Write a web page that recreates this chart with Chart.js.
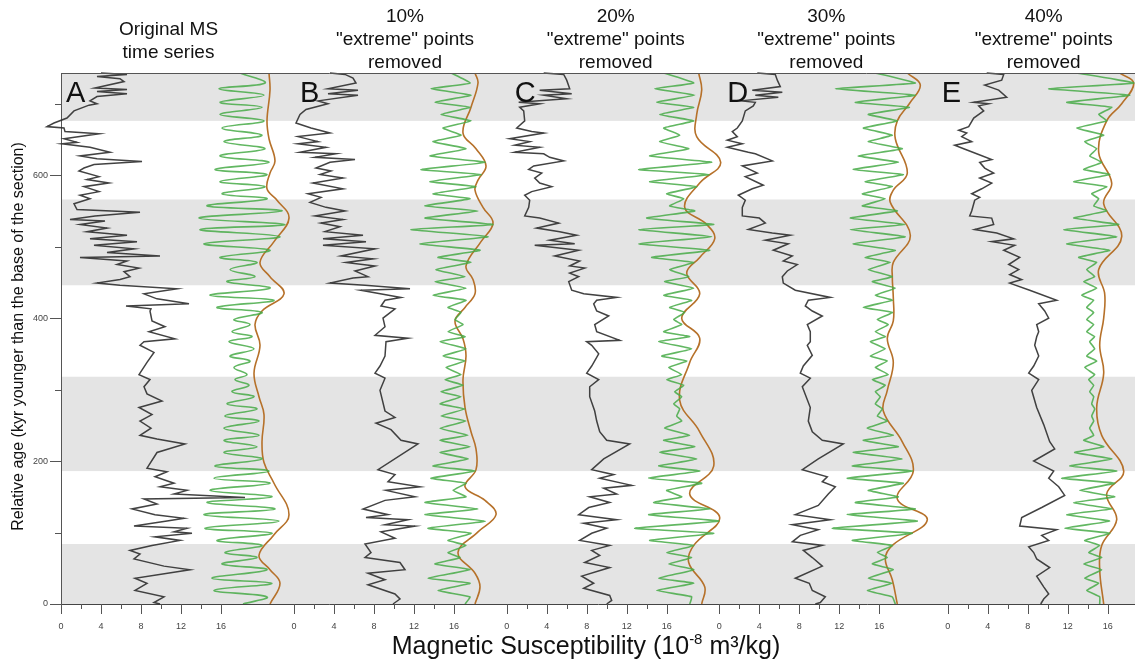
<!DOCTYPE html>
<html>
<head>
<meta charset="utf-8">
<script src="https://cdn.jsdelivr.net/npm/chart.js@4.4.1/dist/chart.umd.min.js"></script>
<style>
  body { margin: 0; background: #fff; }
  #wrap { width: 1135px; height: 659px; }
</style>
</head>
<body>
<div id="wrap"><canvas id="msChart"></canvas></div>
<script>
// ---- data: [age (kyr), MS value] pairs, one array per panel ----
const msA = [[743,4.0],[741,6.6],[738,3.6],[735,5.9],[731,6.3],[722,3.4],[720,6.6],[717,3.6],[714,6.6],[710,3.6],[704,2.9],[700,3.6],[698,2.8],[690,1.3],[680,0.6],[673,-0.7],[668,-1.4],[666,0.3],[661,0.4],[658,3.8],[651,0.3],[646,1.6],[644,0.1],[639,2.9],[632,4.9],[627,1.9],[623,3.6],[619,8.1],[615,3.3],[610,2.3],[606,1.8],[598,3.8],[594,2.6],[589,4.8],[584,2.3],[577,3.8],[572,1.9],[567,2.9],[560,1.3],[552,1.6],[548,7.9],[543,3.4],[538,0.9],[536,4.4],[531,1.9],[526,4.6],[521,2.6],[516,6.6],[511,2.9],[507,7.6],[502,3.3],[497,7.3],[492,4.6],[487,9.9],[485,1.9],[480,6.6],[475,5.6],[470,7.8],[465,6.3],[458,6.9],[454,5.9],[449,3.6],[446,5.9],[441,11.6],[434,8.3],[427,9.6],[420,12.8],[417,6.5],[413,9.0],[410,8.9],[396,9.1],[388,10.4],[381,8.8],[371,11.4],[367,8.3],[362,7.9],[352,9.3],[338,8.6],[321,7.8],[314,8.9],[304,8.3],[294,8.6],[284,10.1],[275,7.8],[265,9.1],[256,7.9],[246,9.0],[236,7.9],[231,9.6],[224,12.4],[212,9.6],[190,8.6],[185,10.6],[178,9.4],[169,11.3],[164,9.9],[159,12.6],[154,11.3],[149,18.4],[147,8.3],[140,9.6],[133,7.1],[125,9.4],[120,12.3],[116,10.6],[109,7.3],[106,12.6],[101,11.3],[99,13.1],[94,9.4],[89,11.9],[82,9.1],[75,6.9],[70,7.9],[63,7.3],[53,10.3],[48,12.9],[36,7.4],[29,8.6],[19,7.4],[10,10.3],[2,9.3],[0,9.9]];
const msB = [[743,3.6],[741,5.1],[736,5.9],[729,6.2],[721,3.4],[719,6.4],[714,3.4],[712,6.4],[704,2.4],[700,3.4],[692,1.2],[685,0.6],[673,0.2],[666,1.7],[659,3.6],[654,0.4],[647,2.4],[644,0.4],[639,3.2],[632,0.6],[630,4.2],[625,2.1],[622,6.1],[618,3.6],[610,2.2],[606,3.7],[601,2.6],[596,4.9],[589,1.9],[581,4.9],[574,1.4],[569,2.7],[562,1.6],[555,3.2],[550,5.1],[543,2.1],[538,4.9],[533,2.7],[528,4.6],[521,3.1],[516,6.9],[511,2.9],[507,7.2],[502,2.9],[497,8.1],[487,4.7],[483,7.9],[478,5.2],[473,8.1],[466,6.1],[458,7.4],[456,5.9],[449,3.6],[446,7.1],[441,11.6],[439,6.7],[429,10.7],[425,9.1],[417,8.7],[413,10.1],[400,8.9],[388,9.1],[376,8.1],[372,11.4],[367,9.2],[347,9.1],[333,8.6],[323,8.1],[316,9.1],[299,8.6],[270,9.1],[261,10.1],[253,8.2],[244,9.7],[229,10.7],[224,12.4],[188,8.4],[181,10.1],[171,9.4],[164,12.6],[159,9.2],[150,12.1],[145,9.1],[133,6.9],[125,9.4],[121,7.2],[118,11.4],[111,9.1],[109,12.1],[101,8.7],[92,10.1],[84,7.1],[72,7.7],[65,7.1],[58,10.6],[48,11.1],[43,7.4],[34,9.1],[27,7.4],[14,10.1],[7,10.6],[0,9.9]];
const msC = [[743,3.7],[741,5.7],[733,6.0],[721,6.3],[719,3.3],[714,6.5],[712,3.7],[707,6.0],[702,1.2],[700,3.3],[695,1.3],[690,1.7],[676,1.8],[666,1.0],[661,2.5],[659,3.7],[651,0.3],[647,2.3],[642,0.8],[639,3.3],[632,0.8],[630,3.7],[625,4.3],[620,5.7],[613,2.7],[608,2.2],[603,3.5],[596,2.8],[589,3.3],[584,4.5],[577,2.5],[572,1.8],[565,2.3],[555,2.2],[543,1.8],[540,3.3],[533,5.2],[526,3.0],[521,5.3],[516,7.0],[509,4.3],[504,6.8],[502,2.8],[495,7.2],[487,4.8],[480,7.3],[473,6.3],[470,7.8],[463,6.3],[458,7.2],[451,6.2],[439,6.5],[434,7.7],[429,11.0],[425,9.0],[420,8.7],[410,9.0],[403,10.2],[391,8.8],[381,9.0],[369,11.3],[367,8.0],[362,8.5],[350,9.2],[333,8.5],[323,8.0],[314,9.2],[304,8.3],[290,8.3],[270,8.8],[256,9.0],[241,9.3],[229,10.0],[224,12.3],[203,9.7],[188,8.5],[181,10.7],[176,9.3],[166,12.5],[162,9.7],[154,11.0],[150,8.3],[142,10.3],[135,8.2],[125,7.2],[118,11.0],[113,7.7],[106,10.0],[99,8.5],[89,7.3],[82,10.3],[75,8.5],[68,9.3],[58,7.8],[51,10.3],[39,7.5],[29,8.7],[22,7.7],[12,10.3],[5,10.5],[0,10.0]];
const msD = [[743,3.8],[741,5.6],[733,5.8],[724,6.1],[719,3.3],[716,6.3],[712,3.6],[709,5.9],[704,2.1],[702,3.6],[697,3.4],[690,2.6],[676,2.3],[666,1.8],[661,1.3],[654,1.8],[649,0.8],[644,2.3],[639,0.8],[632,2.9],[630,3.6],[620,5.3],[613,2.3],[603,3.8],[598,2.6],[586,4.4],[581,3.3],[572,1.9],[565,2.6],[555,2.3],[543,2.3],[540,4.0],[533,4.6],[524,2.9],[519,5.3],[516,7.1],[509,4.6],[504,6.9],[495,5.4],[487,7.3],[480,6.4],[475,7.8],[466,6.8],[458,6.3],[449,6.4],[439,7.6],[429,11.1],[425,8.9],[417,8.6],[410,9.3],[403,10.3],[391,8.8],[381,9.1],[367,9.1],[362,8.8],[348,9.3],[333,8.4],[323,8.1],[316,9.1],[304,8.3],[275,9.1],[256,8.9],[241,9.3],[229,10.3],[224,12.4],[203,9.9],[188,8.3],[178,10.8],[171,10.3],[164,11.6],[154,10.9],[138,9.9],[125,7.6],[118,11.1],[111,7.3],[104,9.9],[96,8.1],[87,7.3],[82,10.3],[75,8.4],[65,9.3],[53,10.3],[36,7.6],[29,9.0],[19,9.3],[10,10.6],[2,10.1],[0,9.6]];
const msE = [[743,3.9],[741,5.6],[733,5.4],[726,3.7],[719,5.1],[709,5.9],[702,2.6],[700,4.1],[697,3.1],[690,3.6],[680,2.6],[668,2.1],[663,1.1],[659,1.9],[654,1.4],[647,2.4],[642,0.7],[637,1.6],[630,2.9],[622,4.4],[618,3.2],[610,3.7],[603,4.6],[596,3.2],[589,4.4],[581,3.4],[574,2.4],[569,3.2],[565,2.7],[550,2.4],[543,2.2],[540,4.4],[531,4.6],[524,2.7],[519,4.9],[511,6.6],[507,4.4],[502,6.7],[495,5.6],[485,7.2],[475,6.1],[468,7.1],[461,6.2],[454,7.4],[449,6.2],[439,8.2],[425,10.9],[420,9.1],[410,9.7],[400,10.1],[391,8.9],[381,9.1],[374,8.9],[362,8.7],[347,9.1],[333,8.6],[323,8.1],[314,9.1],[299,8.4],[275,8.9],[251,9.6],[227,10.2],[217,10.7],[200,8.6],[186,10.6],[176,10.1],[164,11.1],[152,11.7],[135,9.4],[121,7.4],[109,7.2],[104,10.9],[96,9.4],[89,10.1],[80,8.1],[72,8.6],[63,8.9],[51,10.2],[39,8.9],[24,9.6],[14,10.1],[7,9.6],[0,9.3]];

// filtered (green) curve: turning points, shared ages, one value array per panel
const greenAge = [743,729,721,712,702,695,685,676,666,656,647,637,627,618,608,601,591,584,574,567,557,550,540,531,524,514,504,495,485,478,468,458,451,442,432,425,415,408,398,391,381,374,367,357,347,340,331,321,314,306,297,290,280,273,263,256,246,236,229,220,212,203,193,186,176,169,159,150,142,133,125,116,106,99,89,82,72,65,56,48,36,29,19,10,0];
const greenA = [17.9,20.4,15.8,20.3,15.9,20.1,15.9,20.3,16.1,20.1,16.3,20.4,15.9,20.8,15.4,20.6,15.9,20.4,16.1,20.6,14.6,22.1,13.8,22.4,13.9,21.9,14.3,20.9,15.9,19.6,16.9,19.4,16.6,20.9,14.9,21.3,15.6,20.1,17.3,18.9,17.1,19.1,16.8,19.3,16.9,18.9,17.3,18.6,17.4,18.8,17.1,19.3,16.6,19.6,16.4,19.8,16.3,19.8,16.3,19.6,16.3,20.1,15.4,20.8,15.3,20.9,14.9,21.1,14.6,21.4,14.3,21.8,14.4,21.1,15.6,20.1,16.4,19.6,16.1,20.6,15.1,21.1,15.3,20.6,18.2];
const greenB = [15.7,17.6,13.7,17.7,14.1,17.6,14.7,17.7,14.9,16.7,13.9,17.2,13.6,19.1,12.7,18.7,13.6,18.2,13.9,17.6,13.1,18.4,13.1,19.9,11.7,19.4,12.6,18.6,14.4,17.7,14.2,17.1,14.1,17.2,13.9,17.2,15.4,16.7,16.1,16.9,15.4,17.1,14.6,17.2,14.9,17.1,15.2,16.7,15.1,16.9,14.7,16.7,14.6,17.1,14.7,17.2,14.6,17.4,14.6,17.6,14.6,17.4,13.9,18.1,13.7,17.2,15.9,17.2,13.1,18.4,13.1,19.1,13.4,17.7,15.4,17.2,15.4,16.6,14.1,17.6,13.4,17.6,14.4,17.6,17.1];
const greenC = [15.7,18.7,14.8,18.8,15.0,18.7,15.3,18.7,15.7,17.3,15.3,18.2,14.3,20.5,13.2,20.2,14.3,19.0,16.0,17.7,16.3,18.8,14.0,20.7,13.2,20.5,13.2,20.3,14.5,18.7,16.3,18.2,15.8,18.7,15.7,18.5,16.3,17.8,16.7,17.5,15.7,18.3,15.2,18.5,15.5,18.0,16.2,17.5,16.0,17.7,16.8,17.5,16.7,17.3,17.0,17.5,15.8,18.3,15.7,18.8,15.3,19.0,15.2,19.3,14.2,19.5,16.0,17.5,14.7,20.3,14.2,21.2,12.8,20.7,14.3,18.7,16.0,18.5,16.2,18.7,15.2,18.7,15.0,18.5,18.3];
const greenD = [15.6,19.6,11.6,19.6,13.6,19.0,14.9,17.8,14.4,17.3,14.9,18.3,13.9,17.9,13.4,18.4,14.6,17.3,14.3,16.6,14.3,17.8,13.1,18.6,13.1,18.6,13.4,17.6,14.6,17.1,14.9,17.3,15.3,17.6,15.6,17.3,14.4,17.3,15.8,16.9,15.6,16.6,15.1,16.6,15.1,16.8,15.6,16.9,15.3,16.6,15.6,16.1,15.6,16.3,15.8,16.8,14.8,17.4,14.4,17.9,13.4,18.3,13.3,19.3,12.8,18.4,14.9,17.9,13.6,19.6,12.8,19.8,11.3,19.3,13.3,17.3,15.8,16.8,15.3,17.4,14.9,17.3,14.8,17.3,17.6];
const greenE = [12.9,18.6,10.1,18.2,11.9,16.4,15.1,15.9,12.9,15.6,13.7,14.9,14.2,15.4,13.6,16.2,12.6,15.9,14.4,15.1,14.6,15.9,12.6,17.1,11.6,16.9,11.9,16.2,13.1,14.9,13.9,14.7,13.6,14.9,13.4,14.6,13.9,14.6,13.9,14.6,13.9,14.7,14.2,14.7,13.9,14.9,13.7,14.7,14.1,14.6,14.2,14.6,14.4,14.7,14.4,14.6,14.2,14.6,13.6,15.6,12.7,16.4,12.2,16.9,11.4,16.7,13.2,16.7,12.6,16.4,11.9,16.2,11.7,16.2,13.7,15.2,14.1,15.4,13.6,15.4,13.7,15.1,13.9,15.2,15.2];

// long-period (brown) curve: [age, value]
const brownA = [[743,20.8],[719,20.9],[676,20.6],[651,20.8],[620,21.4],[603,20.9],[581,20.6],[565,21.6],[540,22.8],[507,21.3],[478,19.9],[458,20.9],[434,22.3],[410,20.1],[391,19.4],[362,19.9],[323,19.3],[290,19.8],[265,20.3],[227,20.1],[198,20.3],[169,21.3],[125,22.8],[97,21.3],[68,19.8],[48,20.9],[29,21.9],[0,20.9]];
const brownB = [[743,18.1],[729,18.4],[695,17.7],[659,16.9],[637,18.2],[613,19.2],[593,18.4],[579,18.1],[555,18.9],[533,19.9],[507,18.7],[473,17.2],[454,17.9],[434,18.1],[415,17.1],[396,16.1],[371,16.9],[347,17.2],[314,16.9],[275,17.1],[241,17.7],[217,18.2],[188,18.2],[164,17.1],[145,19.1],[125,20.2],[101,18.4],[72,16.4],[43,18.1],[24,18.6],[0,18.1]];
const brownC = [[743,19.2],[719,19.5],[685,19.0],[654,19.0],[618,21.4],[589,19.3],[555,17.8],[531,20.0],[511,20.8],[485,19.3],[463,18.0],[434,19.3],[400,17.5],[372,19.3],[338,18.3],[285,17.3],[241,19.3],[193,20.7],[154,18.3],[121,21.3],[82,18.7],[58,18.2],[24,19.8],[0,19.5]];
const brownD = [[743,18.8],[726,20.1],[700,19.0],[676,17.8],[651,17.6],[603,18.8],[579,17.4],[562,17.1],[516,19.1],[478,17.4],[458,17.3],[429,17.4],[396,17.4],[372,16.8],[338,17.4],[299,16.8],[270,16.4],[227,18.3],[186,19.4],[147,17.8],[118,20.8],[82,17.3],[63,16.6],[34,17.3],[0,17.8]];
const brownE = [[743,17.2],[729,18.6],[700,17.4],[676,15.9],[632,15.1],[589,16.4],[560,15.6],[514,17.4],[468,15.1],[434,15.7],[400,15.6],[362,15.2],[323,15.6],[275,14.9],[236,15.4],[186,17.6],[154,15.9],[118,16.9],[82,15.4],[48,15.2],[0,15.6]];

// shaded age intervals
const bandFrom = [0, 186, 446, 676];
const bandTo = [84, 318, 566, 743];

// axis ticks
const xTickVals = [0, 2, 4, 6, 8, 10, 12, 14, 16];
const yTickVals = [0, 100, 200, 300, 400, 500, 600, 700];

const panelLetters = ['A', 'B', 'C', 'D', 'E'];
const panelTitles = [
  ['Original MS', 'time series'],
  ['10%', '"extreme" points', 'removed'],
  ['20%', '"extreme" points', 'removed'],
  ['30%', '"extreme" points', 'removed'],
  ['40%', '"extreme" points', 'removed']
];

// ---- layout (x offsets of each panel on the shared axis) ----
const panelOffset = [0, 23.3, 44.57, 65.83, 88.67];
const letterX = [0.5, 0.6, 0.8, 0.8, -0.6];
const titleX = [10.75, 11.1, 10.9, 10.7, 9.6];

const FONT = '"Liberation Sans", Arial, Helvetica, sans-serif';
Chart.defaults.font.family = FONT;

const panels = [
  { ms: msA, green: greenA, brown: brownA, tension: 0.4 },
  { ms: msB, green: greenB, brown: brownB, tension: 0.12 },
  { ms: msC, green: greenC, brown: brownC, tension: 0.12 },
  { ms: msD, green: greenD, brown: brownD, tension: 0.1 },
  { ms: msE, green: greenE, brown: brownE, tension: 0.1 }
];

const datasets = [];
panels.forEach((p, i) => {
  const off = panelOffset[i];
  datasets.push({
    data: p.ms.map(d => ({ x: off + d[1], y: d[0] })),
    borderColor: 'rgba(45,45,45,0.9)', borderWidth: 1.5, tension: 0, clip: false
  });
  datasets.push({
    data: greenAge.map((a, k) => ({ x: off + p.green[k], y: a })),
    borderColor: 'rgba(70,170,70,0.85)', borderWidth: 1.6, tension: p.tension
  });
  datasets.push({
    data: p.brown.map(d => ({ x: off + d[1], y: d[0] })),
    borderColor: '#b6712a', borderWidth: 1.6, tension: 0.4
  });
});
datasets.forEach(d => { d.showLine = true; d.pointRadius = 0; d.fill = false; });

const xTickPos = panelOffset.flatMap(off => xTickVals.map(v => off + v));

const decoPlugin = {
  id: 'deco',
  beforeDraw(chart) {
    const { ctx, chartArea: a, scales: { y } } = chart;
    ctx.save();
    ctx.fillStyle = '#e4e4e4';
    bandFrom.forEach((b, i) => {
      const top = y.getPixelForValue(bandTo[i]);
      const bot = y.getPixelForValue(b);
      ctx.fillRect(a.left, top, a.right - a.left, bot - top);
    });
    ctx.restore();
  },
  afterDraw(chart) {
    const { ctx, chartArea: a, scales: { x, y } } = chart;
    ctx.save();
    ctx.strokeStyle = '#555';
    ctx.lineWidth = 1;
    ctx.beginPath();
    ctx.moveTo(a.left, a.top + 0.5);
    ctx.lineTo(a.right, a.top + 0.5);
    panelOffset.forEach(off => {
      xTickVals.forEach(v => {
        const px = Math.round(x.getPixelForValue(off + v)) + 0.5;
        ctx.moveTo(px, a.bottom);
        ctx.lineTo(px, a.bottom + (v % 4 === 0 ? 10 : 5));
      });
    });
    yTickVals.forEach(v => {
      const py = Math.round(y.getPixelForValue(v)) + 0.5;
      ctx.moveTo(a.left - (v % 200 === 0 ? 11 : 6), py);
      ctx.lineTo(a.left, py);
    });
    ctx.stroke();

    // panel letters
    ctx.fillStyle = '#111';
    ctx.font = '29px ' + FONT;
    ctx.textAlign = 'left';
    ctx.textBaseline = 'alphabetic';
    panelLetters.forEach((l, i) => {
      ctx.fillText(l, x.getPixelForValue(panelOffset[i] + letterX[i]), y.getPixelForValue(703));
    });

    // panel titles
    ctx.font = '19px ' + FONT;
    ctx.textAlign = 'center';
    ctx.textBaseline = 'middle';
    panelTitles.forEach((lines, i) => {
      const cx = x.getPixelForValue(panelOffset[i] + titleX[i]);
      const y0 = lines.length === 2 ? 30 : 17;
      lines.forEach((t, k) => ctx.fillText(t, cx, y0 + k * 23));
    });

    // y axis title
    ctx.save();
    ctx.translate(19, (a.top + a.bottom) / 2 - 2);
    ctx.rotate(-Math.PI / 2);
    ctx.font = '16px ' + FONT;
    ctx.fillText('Relative age (kyr younger than the base of the section)', 0, 0);
    ctx.restore();

    // x axis title with superscript
    const big = '25px ' + FONT, small = '15px ' + FONT;
    const p1 = 'Magnetic Susceptibility (10', p2 = '-8', p3 = ' m³/kg)';
    ctx.font = big; const w1 = ctx.measureText(p1).width, w3 = ctx.measureText(p3).width;
    ctx.font = small; const w2 = ctx.measureText(p2).width;
    let sx = 586 - (w1 + w2 + w3) / 2;
    const by = 654;
    ctx.textAlign = 'left';
    ctx.textBaseline = 'alphabetic';
    ctx.font = big; ctx.fillText(p1, sx, by); sx += w1;
    ctx.font = small; ctx.fillText(p2, sx, by - 10); sx += w2;
    ctx.font = big; ctx.fillText(p3, sx, by);
    ctx.restore();
  }
};

new Chart(document.getElementById('msChart'), {
  type: 'scatter',
  data: { datasets },
  options: {
    responsive: true,
    maintainAspectRatio: false,
    animation: false,
    layout: { padding: { top: 73, left: 0, right: 0, bottom: 0 } },
    plugins: { legend: { display: false }, tooltip: { enabled: false } },
    scales: {
      x: {
        type: 'linear', min: 0, max: 107.4,
        grid: { display: false },
        border: { display: true, color: '#444', width: 1 },
        afterBuildTicks: axis => { axis.ticks = xTickPos.map(v => ({ value: v })); },
        afterFit: axis => { axis.height = 55; },
        ticks: {
          autoSkip: false, maxRotation: 0, padding: 9,
          color: '#444', font: { size: 9 },
          callback: (value, index) => {
            const v = xTickVals[index % xTickVals.length];
            return v % 4 === 0 ? String(v) : '';
          }
        }
      },
      y: {
        type: 'linear', min: 0, max: 743,
        grid: { display: false },
        border: { display: true, color: '#555', width: 1 },
        afterBuildTicks: axis => { axis.ticks = yTickVals.map(v => ({ value: v })); },
        afterFit: axis => { axis.width = 61; },
        ticks: {
          autoSkip: false, padding: 5,
          color: '#444', font: { size: 9 },
          callback: v => (v % 200 === 0 ? String(v) : '')
        }
      }
    }
  },
  plugins: [decoPlugin]
});
</script>
</body>
</html>
